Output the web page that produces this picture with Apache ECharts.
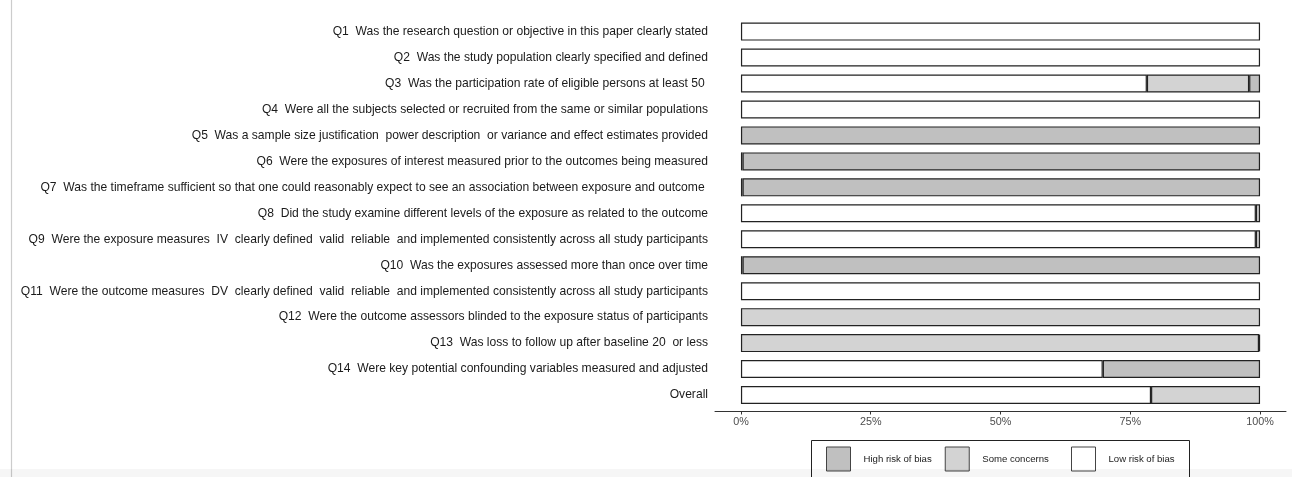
<!DOCTYPE html>
<html>
<head>
<meta charset="utf-8">
<script src="https://cdn.jsdelivr.net/npm/echarts@6/dist/echarts.min.js"></script>
<style>
  html, body { margin: 0; padding: 0; background: #ffffff; }
  #chart { width: 1292px; height: 477px; }
</style>
</head>
<body>
<div id="chart"></div>
<script>
// Risk-of-bias domains (top to bottom)
const questions = [
  "Q1  Was the research question or objective in this paper clearly stated",
  "Q2  Was the study population clearly specified and defined",
  "Q3  Was the participation rate of eligible persons at least 50 ",
  "Q4  Were all the subjects selected or recruited from the same or similar populations",
  "Q5  Was a sample size justification  power description  or variance and effect estimates provided",
  "Q6  Were the exposures of interest measured prior to the outcomes being measured",
  "Q7  Was the timeframe sufficient so that one could reasonably expect to see an association between exposure and outcome ",
  "Q8  Did the study examine different levels of the exposure as related to the outcome",
  "Q9  Were the exposure measures  IV  clearly defined  valid  reliable  and implemented consistently across all study participants",
  "Q10  Was the exposures assessed more than once over time",
  "Q11  Were the outcome measures  DV  clearly defined  valid  reliable  and implemented consistently across all study participants",
  "Q12  Were the outcome assessors blinded to the exposure status of participants",
  "Q13  Was loss to follow up after baseline 20  or less",
  "Q14  Were key potential confounding variables measured and adjusted",
  "Overall"
];

// Weighted share of studies per judgement (%)
const lowRisk      = [100, 100, 78.2, 100, 0,   0.3, 0.3, 99.2, 99.2, 0.3, 100, 0,   0,    69.7, 79.0];
const someConcerns = [0,   0,   19.7, 0,   0,   0,   0,   0.8,  0.8,  0,   0,   100, 99.8, 0,    21.0];
const highRisk     = [0,   0,   2.1,  0,   100, 99.7, 99.7, 0,   0,    99.7, 0,  0,   0.2,  30.3, 0];

const xTicks = [0, 25, 50, 75, 100];

const judgementColors = {
  high: "#c0c0c0",
  some: "#d3d3d3",
  low: "#ffffff"
};

const chart = echarts.init(document.getElementById("chart"), null, { renderer: "canvas" });

// empty judgements get no segment at all
const mkSeries = (name, data, color) => ({
  name: name,
  type: "bar",
  stack: "rob",
  data: data.map((v) => (v > 0 ? v : "-")),
  barWidth: 18,
  itemStyle: { color: color, borderColor: "#222222", borderWidth: 1.2 },
  emphasis: { disabled: true },
  animation: false
});

const labelFont = "Liberation Sans, Arial, sans-serif";

// shared look of the legend keys; the frame around them is a graphic rect
const legendBase = (names, left) => ({
  data: names,
  left: left,
  top: 446.5,
  orient: "horizontal",
  itemWidth: 24,
  itemHeight: 24,
  itemGap: 13,
  padding: 0,
  selectedMode: false,
  icon: "rect",
  itemStyle: { borderColor: "#444444", borderWidth: 1 },
  textStyle: {
    color: "#1a1a1a",
    fontFamily: labelFont,
    fontSize: 9.6,
    padding: [0, 0, 0, 8]
  }
});

chart.setOption({
  backgroundColor: "#ffffff",
  animation: false,
  grid: {
    left: 715,
    width: 571,
    top: 18.6,
    height: 389.4,
    containLabel: false
  },
  xAxis: {
    type: "value",
    min: -5,
    max: 105,
    offset: 3,
    splitLine: { show: false },
    axisLine: { show: true, lineStyle: { color: "#333333", width: 1 } },
    axisTick: {
      show: true,
      customValues: xTicks,
      length: 3.5,
      lineStyle: { color: "#333333", width: 1 }
    },
    axisLabel: {
      customValues: xTicks,
      formatter: (v) => v + "%",
      margin: 6,
      color: "#4d4d4d",
      fontFamily: labelFont,
      fontSize: 10.8
    }
  },
  yAxis: {
    type: "category",
    data: questions,
    inverse: true,
    axisLine: { show: false },
    axisTick: { show: false },
    splitLine: { show: false },
    axisLabel: {
      margin: 7,
      color: "#1a1a1a",
      fontFamily: labelFont,
      fontSize: 12.1
    }
  },
  legend: [
    legendBase(["High risk of bias", "Some concerns"], 826),
    legendBase(["Low risk of bias"], 1071)
  ],
  series: [
    mkSeries("Low risk of bias", lowRisk, judgementColors.low),
    mkSeries("Some concerns", someConcerns, judgementColors.some),
    mkSeries("High risk of bias", highRisk, judgementColors.high)
  ],
  graphic: [
    {
      type: "rect",
      shape: { x: 811.5, y: 440.5, width: 378, height: 60 },
      style: { fill: "none", stroke: "#222222", lineWidth: 1 },
      silent: true,
      z: -1
    },
    {
      type: "line",
      shape: { x1: 11.5, y1: 0, x2: 11.5, y2: 477 },
      style: { stroke: "#cccccc", lineWidth: 1.2 },
      silent: true
    },
    {
      type: "rect",
      shape: { x: 0, y: 469, width: 1292, height: 8 },
      style: { fill: "rgba(0,0,0,0.035)" },
      silent: true,
      z: 100
    }
  ]
});
</script>
</body>
</html>
